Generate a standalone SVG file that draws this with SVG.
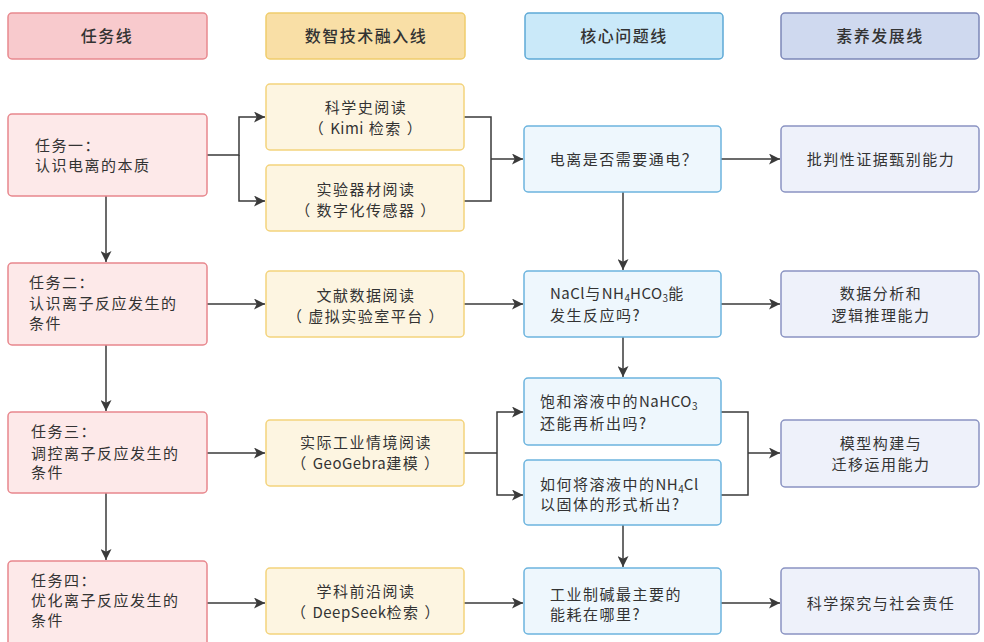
<svg xmlns="http://www.w3.org/2000/svg" width="984" height="642" viewBox="0 0 984 642">
<style>
text{font-family:"Noto Sans CJK SC","Open Sans",sans-serif;font-size:15px;fill:#333;letter-spacing:1.5px}
.h{font-size:16px;text-anchor:middle;font-weight:500}
.c{text-anchor:middle}
.th{fill:#f8cacd;stroke:#e8898e;stroke-width:1.5}
.yh{fill:#f9dfa6;stroke:#f0cd6c;stroke-width:1.5}
.bh{fill:#cae9f9;stroke:#5ea9d6;stroke-width:1.5}
.ph{fill:#cfd9ef;stroke:#7c87b8;stroke-width:1.5}
.tn{fill:#fde9e9;stroke:#e8878d;stroke-width:1.5}
.yn{fill:#fdf5e1;stroke:#f3d37c;stroke-width:1.5}
.bn{fill:#eef7fd;stroke:#6cb4de;stroke-width:1.5}
.pn{fill:#eef1fa;stroke:#8a93c2;stroke-width:1.5}
.ln{fill:none;stroke:#3a3a3a;stroke-width:1.5}
.s{font-size:10px;letter-spacing:0}
.l{letter-spacing:0.5px}
</style>
<defs>
<marker id="ar" viewBox="0 0 10 10" refX="10" refY="5" markerWidth="11" markerHeight="11" markerUnits="userSpaceOnUse" orient="auto">
<path d="M0,0 L10,5 L0,10 L2.5,5 Z" fill="#3a3a3a"/>
</marker>
</defs>
<rect width="984" height="642" fill="#ffffff"/>

<g id="hdr-task"><rect class="th" x="8" y="13" width="199" height="46" rx="4"/><text class="h" x="107" y="42">任务线</text></g>
<g id="hdr-tech"><rect class="yh" x="266" y="13" width="199" height="46" rx="4"/><text class="h" x="366" y="42">数智技术融入线</text></g>
<g id="hdr-core"><rect class="bh" x="525" y="13" width="198" height="46" rx="4"/><text class="h" x="624" y="42">核心问题线</text></g>
<g id="hdr-lit"><rect class="ph" x="781" y="13" width="198" height="46" rx="4"/><text class="h" x="880" y="42">素养发展线</text></g>

<g id="connectors">
<path class="ln" d="M207,155 H239 V117 H265" marker-end="url(#ar)"/>
<path class="ln" d="M239,155 V201 H265" marker-end="url(#ar)"/>
<path class="ln" d="M464,117 H491 V201 H464"/>
<path class="ln" d="M491,159 H523" marker-end="url(#ar)"/>
<path class="ln" d="M721,159 H780" marker-end="url(#ar)"/>
<path class="ln" d="M623,192 V270" marker-end="url(#ar)"/>
<path class="ln" d="M106,196 V262" marker-end="url(#ar)"/>

<path class="ln" d="M207,304 H265" marker-end="url(#ar)"/>
<path class="ln" d="M464,304 H523" marker-end="url(#ar)"/>
<path class="ln" d="M721,304 H780" marker-end="url(#ar)"/>
<path class="ln" d="M623,337 V377" marker-end="url(#ar)"/>
<path class="ln" d="M106,345 V411" marker-end="url(#ar)"/>

<path class="ln" d="M207,453 H265" marker-end="url(#ar)"/>
<path class="ln" d="M464,453 H497"/>
<path class="ln" d="M497,453 V412 H523" marker-end="url(#ar)"/>
<path class="ln" d="M497,453 V495 H523" marker-end="url(#ar)"/>
<path class="ln" d="M721,412 H748 V495 H721"/>
<path class="ln" d="M748,453 H780" marker-end="url(#ar)"/>
<path class="ln" d="M623,525 V567" marker-end="url(#ar)"/>
<path class="ln" d="M106,493 V560" marker-end="url(#ar)"/>

<path class="ln" d="M207,603 H265" marker-end="url(#ar)"/>
<path class="ln" d="M464,603 H523" marker-end="url(#ar)"/>
<path class="ln" d="M721,603 H780" marker-end="url(#ar)"/>
</g>

<g id="task1"><rect class="tn" x="8" y="114" width="199" height="82" rx="4"/><text x="35" y="151">任务一：</text><text x="35" y="171">认识电离的本质</text></g>
<g id="task2"><rect class="tn" x="8" y="263" width="199" height="82" rx="4"/><text x="29" y="288">任务二：</text><text x="29" y="309">认识离子反应发生的</text><text x="29" y="329">条件</text></g>
<g id="task3"><rect class="tn" x="8" y="412" width="199" height="81" rx="4"/><text x="31" y="437">任务三：</text><text x="31" y="459">调控离子反应发生的</text><text x="31" y="478">条件</text></g>
<g id="task4"><rect class="tn" x="8" y="561" width="199" height="85" rx="4"/><text x="31" y="586">任务四：</text><text x="31" y="606">优化离子反应发生的</text><text x="31" y="626">条件</text></g>

<g id="tech1"><rect class="yn" x="266" y="84" width="198" height="66" rx="4"/><text class="c" x="366" y="113">科学史阅读</text><text class="c" x="366" y="134">（ <tspan class="l">Kimi</tspan> 检索 ）</text></g>
<g id="tech2"><rect class="yn" x="266" y="165" width="198" height="66" rx="4"/><text class="c" x="366" y="195">实验器材阅读</text><text class="c" x="366" y="216">（ 数字化传感器 ）</text></g>
<g id="tech3"><rect class="yn" x="266" y="271" width="198" height="66" rx="4"/><text class="c" x="366" y="301">文献数据阅读</text><text class="c" x="366" y="322">（ 虚拟实验室平台 ）</text></g>
<g id="tech4"><rect class="yn" x="266" y="420" width="198" height="66" rx="4"/><text class="c" x="366" y="448">实际工业情境阅读</text><text class="c" x="366" y="469">（ <tspan class="l">GeoGebra</tspan>建模 ）</text></g>
<g id="tech5"><rect class="yn" x="266" y="568" width="198" height="66" rx="4"/><text class="c" x="366" y="597">学科前沿阅读</text><text class="c" x="366" y="618">（ <tspan class="l">DeepSeek</tspan>检索 ）</text></g>

<g id="core1"><rect class="bn" x="524" y="126" width="197" height="66" rx="4"/><text class="c" x="624" y="165">电离是否需要通电？</text></g>
<g id="core2"><rect class="bn" x="524" y="271" width="197" height="66" rx="4"/><text x="550" y="299"><tspan class="l">NaCl</tspan>与<tspan class="l">NH</tspan><tspan class="s" dy="3">4</tspan><tspan class="l" dy="-3">HCO</tspan><tspan class="s" dy="3">3</tspan><tspan dy="-3">能</tspan></text><text x="550" y="321">发生反应吗?</text></g>
<g id="core3"><rect class="bn" x="524" y="378" width="197" height="67" rx="4"/><text x="540" y="407">饱和溶液中的<tspan class="l">NaHCO</tspan><tspan class="s" dy="3">3</tspan></text><text x="540" y="429">还能再析出吗?</text></g>
<g id="core4"><rect class="bn" x="524" y="460" width="197" height="65" rx="4"/><text x="540" y="490">如何将溶液中的<tspan class="l">NH</tspan><tspan class="s" dy="3">4</tspan><tspan class="l" dy="-3">Cl</tspan></text><text x="540" y="510">以固体的形式析出?</text></g>
<g id="core5"><rect class="bn" x="524" y="568" width="197" height="66" rx="4"/><text x="550" y="600">工业制碱最主要的</text><text x="550" y="620">能耗在哪里?</text></g>

<g id="lit1"><rect class="pn" x="781" y="126" width="198" height="66" rx="4"/><text class="c" x="881" y="165">批判性证据甄别能力</text></g>
<g id="lit2"><rect class="pn" x="781" y="271" width="198" height="66" rx="4"/><text class="c" x="881" y="299">数据分析和</text><text class="c" x="881" y="321">逻辑推理能力</text></g>
<g id="lit3"><rect class="pn" x="781" y="420" width="198" height="67" rx="4"/><text class="c" x="881" y="449">模型构建与</text><text class="c" x="881" y="470">迁移运用能力</text></g>
<g id="lit4"><rect class="pn" x="781" y="568" width="198" height="66" rx="4"/><text class="c" x="881" y="609">科学探究与社会责任</text></g>
</svg>
